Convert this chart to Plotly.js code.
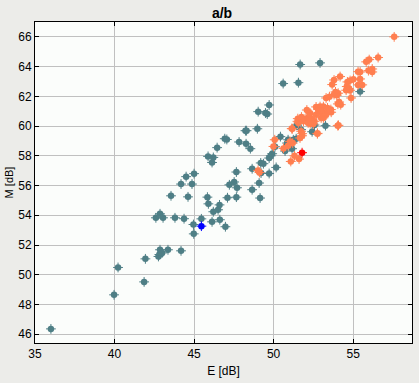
<!DOCTYPE html>
<html><head><meta charset="utf-8">
<script src="https://cdn.plot.ly/plotly-3.0.1.min.js"></script>
<style>html,body{margin:0;padding:0;background:#ECECE9;}</style>
</head><body>
<div id="chart" style="width:419px;height:383px;"></div>
<script>
// Series "a" (teal)
const tealE = [36.0,39.97,40.22,41.86,41.94,42.76,42.82,42.86,42.99,43.36,44.18,42.6,42.86,43.05,43.8,44.37,44.96,44.98,45.46,46.13,46.62,46.97,43.55,44.62,45.84,45.9,46.6,46.51,46.21,47.1,47.66,44.18,44.87,44.5,45.0,47.22,47.52,47.7,47.66,48.65,48.65,49.09,49.15,49.19,49.36,49.21,45.88,46.21,46.13,46.45,46.93,47.06,47.83,48.27,48.54,48.23,48.3,48.98,49.03,49.49,49.6,49.72,50.6,51.56,51.67,52.92,55.44,49.72,50.16,49.72,49.91,50.09,50.43,50.72,50.8,50.85,50.91,51.42,51.73,51.46,52.57,53.26,52.42,51.16,49.82,51.24];
const tealM = [46.36,48.65,50.49,49.52,51.07,51.23,51.36,51.68,51.47,51.68,51.61,53.83,54.1,53.83,53.83,53.77,53.38,52.75,53.76,53.56,53.7,53.23,55.31,55.24,55.22,54.77,54.7,54.37,54.24,55.18,55.22,56.1,56.1,56.6,56.8,56.05,56.24,55.85,56.91,57.13,55.72,56.17,55.16,57.52,57.47,56.84,57.96,57.89,57.55,58.55,59.15,59.1,58.93,58.81,58.48,59.69,59.69,59.82,60.97,60.88,60.81,61.42,62.86,62.92,64.14,64.25,62.32,56.81,57.22,57.85,58.14,58.61,59.29,58.32,58.63,58.86,59.08,59.15,59.76,60.07,60.07,60.03,59.62,58.48,58.0,59.08];
// Series "b" (orange)
const orangeE = [57.58,56.57,56.01,55.82,55.31,55.44,55.96,56.2,56.2,54.18,53.8,53.68,54.64,54.81,55.02,55.44,55.57,55.31,54.6,54.73,54.56,54.81,53.89,54.06,53.8,53.97,54.87,53.3,53.51,54.12,54.22,54.04,53.13,52.92,52.67,52.8,52.92,53.09,53.39,53.6,53.62,53.24,53.13,53.3,52.09,52.3,52.21,52.4,51.98,51.75,51.52,51.56,52.67,52.57,52.99,52.5,52.3,51.88,54.08,51.14,52.76,51.73,51.18,51.5,52.17,52.33,52.75,54.03,51.79,51.66,51.79,50.07,49.99,51.2,50.91,51.03,51.31,51.6,51.08,49.11,49.02,50.62];
const orangeM = [66.0,64.61,64.47,64.32,63.66,63.64,63.73,63.84,63.64,63.33,63.1,62.79,62.97,63.06,63.15,63.17,62.77,62.77,62.66,62.52,62.41,62.41,62.3,62.21,62.12,62.07,61.89,61.89,61.98,61.62,61.44,61.49,61.31,61.31,61.29,61.11,60.95,60.95,61.22,61.11,60.93,60.81,60.55,60.77,61.08,60.86,60.61,60.48,60.48,60.61,60.5,60.21,60.77,60.32,60.55,60.14,60.16,60.32,60.05,59.83,59.51,59.65,59.82,60.32,60.21,60.32,59.49,60.03,59.35,59.2,59.49,59.08,58.63,58.86,58.68,58.97,58.0,57.78,57.62,56.88,57.02,58.5];
// Highlighted points
const blueE = [45.46], blueM = [53.27];
const redE = [51.79], redM = [58.21];
const xTicks = [35,40,45,50,55];
const yTicks = [46,48,50,52,54,56,58,60,62,64,66];

const TEAL = '#4F7F86', ORANGE = '#FF7F50';
function pts(x, y, color) {
  return [
    {x:x, y:y, type:'scatter', mode:'markers', hoverinfo:'skip',
     marker:{symbol:'circle', size:6.5, color:color, line:{width:0}}},
    {x:x, y:y, type:'scatter', mode:'markers', hoverinfo:'skip',
     marker:{symbol:'cross-thin-open', size:7, color:color, line:{width:1, color:color}}}
  ];
}
const data = [].concat(pts(tealE, tealM, TEAL), pts(orangeE, orangeM, ORANGE),
                       pts(blueE, blueM, '#0000FF'), pts(redE, redM, '#FF0000'));

const FONT = 'Liberation Sans, Arial, sans-serif';
const axisCommon = {
  showline:true, linecolor:'#000', linewidth:1, mirror:'ticks',
  ticks:'inside', ticklen:4, tickcolor:'#000', tickwidth:1,
  showgrid:true, gridcolor:'#C0C0C0', gridwidth:1, zeroline:false,
  tickfont:{family:FONT, size:12, color:'#000'}
};
const layout = {
  width:419, height:383, showlegend:false,
  paper_bgcolor:'#ECECE9', plot_bgcolor:'#FBFDFB',
  margin:{l:35, r:7, t:22, b:40},
  title:{text:'<b>a/b</b>', x:0.53, xanchor:'center', y:0.978, yanchor:'top',
         font:{family:FONT, size:14, color:'#000'}},
  xaxis:Object.assign({}, axisCommon, {range:[35,58.7], tickvals:xTicks,
        title:{text:'E [dB]', standoff:6, font:{family:FONT, size:12, color:'#000'}}}),
  yaxis:Object.assign({}, axisCommon, {range:[45.41,67.0], tickvals:yTicks,
        title:{text:'M [dB]', standoff:2, font:{family:FONT, size:11, color:'#000'}}})
};
Plotly.newPlot('chart', data, layout, {staticPlot:true, displayModeBar:false});
</script>
</body></html>
